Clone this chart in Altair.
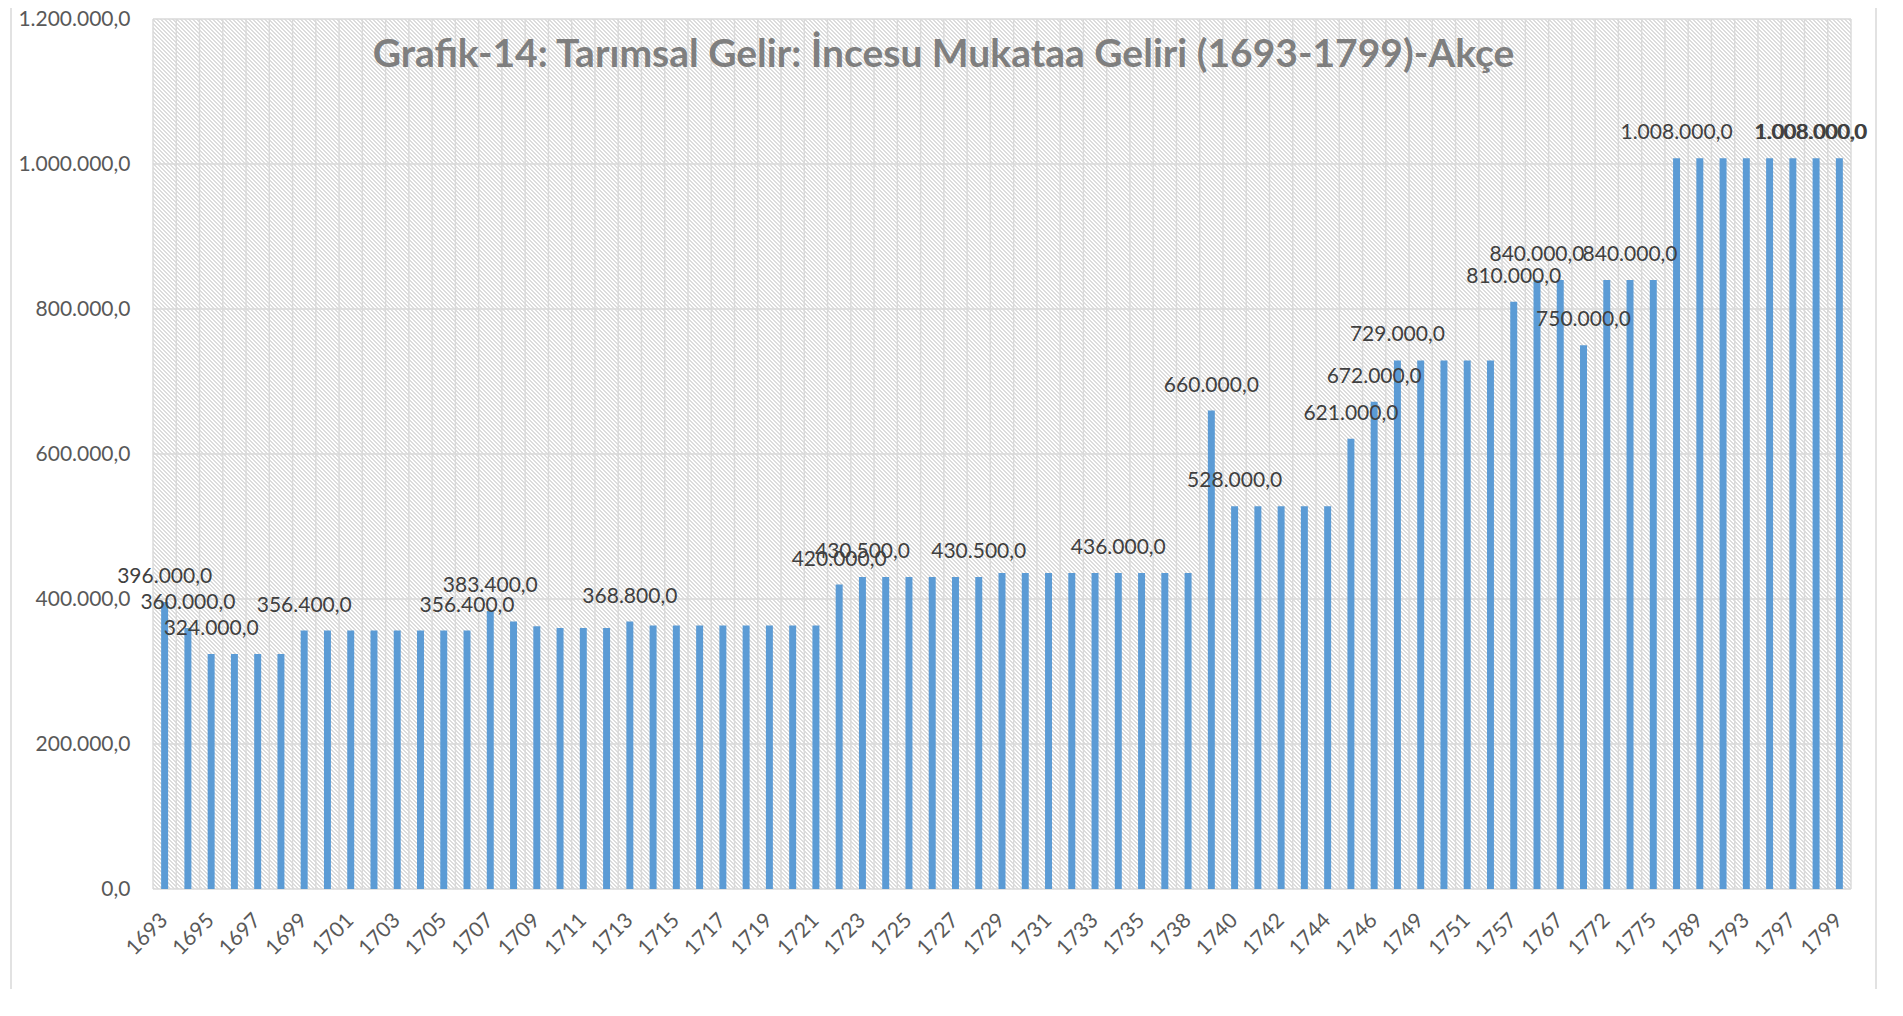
import altair as alt
import pandas as pd

years = ["1693", "1694", "1695", "1696", "1697", "1698", "1699", "1700", "1701", "1702",
         "1703", "1704", "1705", "1706", "1707", "1708", "1709", "1710", "1711", "1712",
         "1713", "1714", "1715", "1716", "1717", "1718", "1719", "1720", "1721", "1722",
         "1723", "1724", "1725", "1726", "1727", "1728", "1729", "1730", "1731", "1732",
         "1733", "1734", "1735", "1737", "1738", "1739", "1740", "1741", "1742", "1743",
         "1744", "1745", "1746", "1748", "1749", "1750", "1751", "1755", "1757", "1762",
         "1767", "1770", "1772", "1774", "1775", "1780", "1789", "1791", "1793", "1795",
         "1797", "1798", "1799"]

values = [396000, 360000, 324000, 324000, 324000, 324000, 356400, 356400, 356400, 356400,
          356400, 356400, 356400, 356400, 383400, 368800, 362400, 360000, 360000, 360000,
          368800, 363600, 363600, 363600, 363600, 363600, 363600, 363600, 363600, 420000,
          430500, 430500, 430500, 430500, 430500, 430500, 436000, 436000, 436000, 436000,
          436000, 436000, 436000, 436000, 436000, 660000, 528000, 528000, 528000, 528000,
          528000, 621000, 672000, 729000, 729000, 729000, 729000, 729000, 810000, 840000,
          840000, 750000, 840000, 840000, 840000, 1008000, 1008000, 1008000, 1008000, 1008000,
          1008000, 1008000, 1008000]

labeled_years = ["1693", "1694", "1695", "1699", "1706", "1707", "1713", "1722", "1723",
                 "1728", "1734", "1739", "1740", "1745", "1746", "1748", "1757", "1762",
                 "1770", "1774", "1780"]
# the two last labels sit almost on top of each other in the reference
edge_label_a = ["1798"]
edge_label_b = ["1799"]

tick_years = years[::2]
y_ticks = [0, 200000, 400000, 600000, 800000, 1000000, 1200000]
title_text = "Grafik-14: Tarımsal Gelir: İncesu Mukataa Geliri (1693-1799)-Akçe"

df = pd.DataFrame({"year": years, "value": values})
lab = df[df["year"].isin(labeled_years)]
edge_a = df[df["year"].isin(edge_label_a)]
edge_b = df[df["year"].isin(edge_label_b)]
last_year = df[df["year"] == years[-1]]
ticks_df = pd.DataFrame({"v": y_ticks})

FONT = "Lato"
GRID = "#d9d9d9"
BAR = "#5b9bd5"
W, H = 1698, 870

# --- diagonal hatch fill of the plot area (Excel pattern fill look) ---
HATCH_BG = "#ffffff"
HATCH_LINE = "#dcdcdc"
span = W + H
stops = []
pos = 0.5
while pos < span:
    a = pos / span
    b = min(pos + 2.0, span) / span
    stops += [alt.GradientStop(color=HATCH_BG, offset=a),
              alt.GradientStop(color=HATCH_LINE, offset=a),
              alt.GradientStop(color=HATCH_LINE, offset=b),
              alt.GradientStop(color=HATCH_BG, offset=b)]
    pos += 4.0
ga = W / span
gb = -H / span
gn = ga * ga + gb * gb
hatch_fill = alt.Gradient(gradient="linear", stops=stops,
                          x1=0, y1=1, x2=ga / gn, y2=1 + gb / gn)


def band_scale():
    return alt.Scale(domain=years, paddingInner=0.7, paddingOuter=0.35)


def edge_scale():
    return alt.Scale(domain=years, paddingInner=0, paddingOuter=0)


yscale = alt.Scale(domain=[0, 1200000], nice=False, zero=True)


def y_axis():
    return alt.Axis(values=y_ticks, format=",.1f", labelFont=FONT, labelFontSize=21,
                    labelColor="#595959", labelPadding=23, ticks=False, domain=False,
                    grid=False, title=None)


def y_enc(field="value:Q"):
    return alt.Y(field, scale=yscale, axis=y_axis(), title=None)


frame = alt.Chart(pd.DataFrame({"k": [0]})).mark_rect(
    fill="white", fillOpacity=0, stroke=GRID, strokeWidth=1.5
).encode(x=alt.value(-142), x2=alt.value(1723), y=alt.value(-14), y2=alt.value(1000))

hatch = alt.Chart(pd.DataFrame({"k": [0]})).mark_rect(fill=hatch_fill, strokeWidth=0).encode(
    x=alt.value(0), x2=alt.value(W), y=alt.value(0), y2=alt.value(H))

grid_v = alt.Chart(df).mark_rule(color=GRID, strokeWidth=1.4).encode(
    x=alt.X("year:N", scale=edge_scale(), bandPosition=0, axis=None)
)
grid_v_end = alt.Chart(last_year).mark_rule(color=GRID, strokeWidth=1.4).encode(
    x=alt.X("year:N", scale=edge_scale(), bandPosition=1, axis=None)
)
grid_h = alt.Chart(ticks_df).mark_rule(color=GRID, strokeWidth=1.4).encode(
    y=y_enc("v:Q")
)

bars = alt.Chart(df).mark_bar(color=BAR).encode(
    x=alt.X("year:N", scale=band_scale(), title=None,
            axis=alt.Axis(values=tick_years, labelAngle=-45, labelAlign="right",
                          labelBaseline="middle", labelPadding=28, labelFont=FONT,
                          labelFontSize=21, labelColor="#595959", ticks=False,
                          domain=False, grid=False, labelOverlap=False)),
    y=y_enc(),
)


def text_layer(data, dx=0):
    return alt.Chart(data).mark_text(
        font=FONT, fontSize=21, color="#404040", baseline="middle", dy=-25, dx=dx
    ).encode(
        x=alt.X("year:N", scale=band_scale(), axis=None),
        y=y_enc(),
        text=alt.Text("value:Q", format=",.1f"),
    )


labels = text_layer(lab)
edge_labels_a = text_layer(edge_a, dx=-6)
edge_labels_b = text_layer(edge_b, dx=-28)

chart = alt.layer(
    frame, hatch, grid_v, grid_v_end, grid_h, bars, labels, edge_labels_a, edge_labels_b
).resolve_scale(
    x="independent"
).properties(
    width=W,
    height=H,
    padding={"left": 145, "top": 11, "right": 30, "bottom": 100},
    autosize=alt.AutoSizeParams(type="none"),
    title=alt.TitleParams(text=title_text, frame="bounds", anchor="middle", offset=-71,
                          font=FONT, fontSize=39, fontWeight="bold", color="#7f7f7f"),
).configure(
    locale={"number": {"decimal": ",", "thousands": ".", "grouping": [3],
                       "currency": ["", ""]}}
).configure_view(
    fill="#ffffff", stroke=None
)

chart.save("out.html", embed_options={"renderer": "svg", "actions": False})
